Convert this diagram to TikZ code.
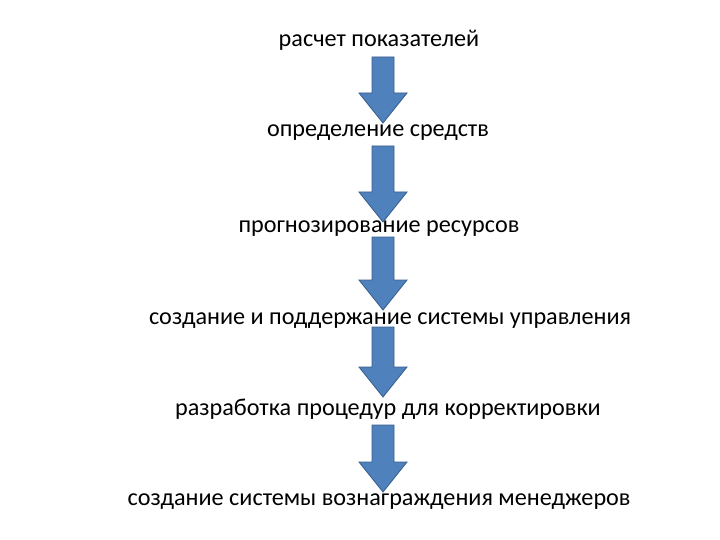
\documentclass[tikz,border=0pt]{standalone}
\usepackage{fontspec}
\setmainfont{Carlito}
\usepackage{tikz}
\usetikzlibrary{calc}
\definecolor{arrowblue}{RGB}{79,129,189}
\definecolor{arrowedge}{RGB}{56,93,138}
\tikzset{
  steptext/.style={anchor=base,inner sep=0pt,font=\fontsize{24.2}{28}\selectfont},
  blockarrow/.style={fill=arrowblue,draw=arrowedge,line width=0.8pt,line join=miter}
}
\begin{document}
\begin{tikzpicture}[x=1pt,y=-1pt]
  \useasboundingbox (0,0) rectangle (720,540);
  % steps
  \node[steptext] (s1) at (379,47)  {расчет показателей};
  \node[steptext] (s2) at (378,137) {определение средств};
  \node[steptext] (s3) at (379,233) {прогнозирование ресурсов};
  \node[steptext] (s4) at (390,324) {создание и поддержание системы управления};
  \node[steptext] (s5) at (388,415) {разработка процедур для корректировки};
  \node[steptext] (s6) at (379,505) {создание системы вознаграждения менеджеров};
  % block arrows between the steps
  \foreach \top/\tip in {57/123,146/222,237/310,327/397,425/492} {
    \coordinate (tail) at (383,\top);
    \draw[blockarrow] (tail) ++(-11,0) -- ++(22,0) -- (394,\tip-30) -- (407,\tip-30)
      -- (383,\tip) -- (359,\tip-30) -- (372,\tip-30) -- cycle;
  }
\end{tikzpicture}
\end{document}
